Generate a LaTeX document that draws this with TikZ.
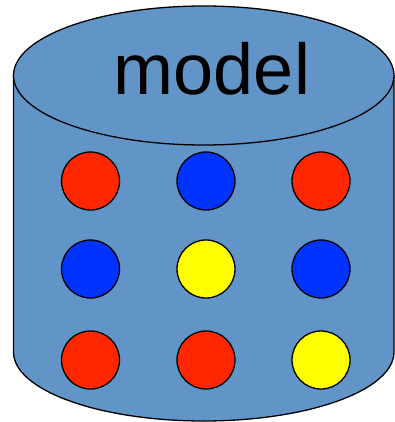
\documentclass[tikz,border=0pt]{standalone}
\usepackage{fontspec}
\setmainfont{Liberation Sans}
\usepackage{xcolor}
\usepackage{tikz}
\usetikzlibrary{positioning}
\definecolor{Drum}{HTML}{6195C8}
\definecolor{BallRed}{HTML}{FF2600}
\definecolor{BallBlue}{HTML}{0033FF}
\definecolor{BallYellow}{HTML}{FFFF00}

\begin{document}
\begin{tikzpicture}[x=1pt,y=-1pt,line width=1.3pt,
  ball/.style={circle,draw=black,minimum size=58pt,inner sep=0pt}]
  \useasboundingbox (0,0) rectangle (395,422);
  % body of the drum
  \fill[Drum] (13.5,75.5) -- (13.5,352)
    arc[start angle=180,end angle=0,x radius=190.25,y radius=69] -- (394,75.5) -- cycle;
  \draw (13.5,75.5) -- (13.5,352)
    arc[start angle=180,end angle=0,x radius=190.25,y radius=69] -- (394,75.5);
  % lid
  \draw[fill=Drum] (203.75,75.5) ellipse[x radius=190.25,y radius=69.5];
  \node[font=\fontsize{72}{72}\selectfont,anchor=base,inner sep=0pt] (title) at (212,95) {model};
  % balls
  \foreach \r/\y/\ca/\cb/\cc in {1/181/BallRed/BallBlue/BallRed,
    2/269/BallBlue/BallYellow/BallBlue,
    3/360/BallRed/BallRed/BallYellow}
  {
    \node[ball,fill=\ca] (ball-\r-1) at (90.5,\y) {};
    \node[ball,fill=\cb] (ball-\r-2) at (206,\y) {};
    \node[ball,fill=\cc] (ball-\r-3) at (321,\y) {};
  }
\end{tikzpicture}
\end{document}
